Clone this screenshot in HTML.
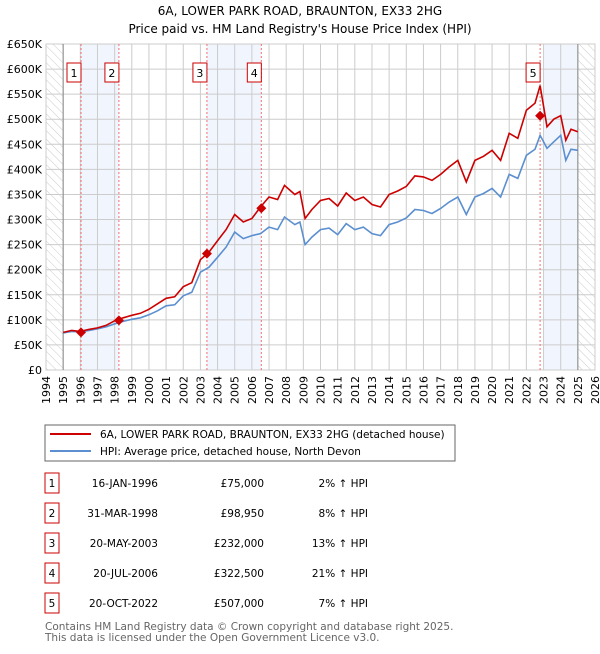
<!DOCTYPE html>
<html><head><meta charset="utf-8">
<style>
body{margin:0;background:#fff;font-family:"DejaVu Sans","Liberation Sans",sans-serif;}
svg text{font-family:"DejaVu Sans","Liberation Sans",sans-serif;}
</style></head>
<body>
<svg id="chart" width="600" height="650" viewBox="0 0 600 650" xmlns="http://www.w3.org/2000/svg">
<defs>
<pattern id="hatch" width="6" height="6" patternUnits="userSpaceOnUse" patternTransform="rotate(-45)">
<rect width="6" height="6" fill="#fff"/><line x1="0" y1="0" x2="0" y2="6" stroke="#ccc" stroke-width="1"/>
</pattern>
</defs>
<text x="300" y="15" text-anchor="middle" font-size="12">6A, LOWER PARK ROAD, BRAUNTON, EX33 2HG</text>
<text x="300" y="33" text-anchor="middle" font-size="12">Price paid vs. HM Land Registry's House Price Index (HPI)</text>
<g id="plot"></g>
<rect x="45" y="425" width="410" height="36" fill="none" stroke="#666"/>
<g>
<line x1="50" y1="434" x2="91" y2="434" stroke="#cc0000" stroke-width="2"/>
<text x="100" y="438" font-size="10.5">6A, LOWER PARK ROAD, BRAUNTON, EX33 2HG (detached house)</text></g>
<g>
<line x1="50" y1="451" x2="91" y2="451" stroke="#5b8fd0" stroke-width="2"/>
<text x="100" y="455" font-size="10.5">HPI: Average price, detached house, North Devon</text></g>
<g id="table" font-size="10.5"></g>
<text x="45" y="630" font-size="10.5" fill="#666">Contains HM Land Registry data © Crown copyright and database right 2025.</text>
<text x="45" y="641" font-size="10.5" fill="#666">This data is licensed under the Open Government Licence v3.0.</text>
</svg>
<script>
const dates=[1995.0,1995.5,1996.0,1996.5,1997,1997.5,1998,1998.5,1999,1999.5,2000,2000.5,2001,2001.5,2002,2002.5,2003,2003.5,2004,2004.5,2005,2005.5,2006,2006.5,2007,2007.5,2007.9,2008.5,2008.8,2009.1,2009.5,2010,2010.5,2011,2011.5,2012,2012.5,2013,2013.5,2014,2014.5,2015,2015.5,2016,2016.5,2017,2017.5,2018,2018.5,2019,2019.5,2020,2020.5,2021,2021.5,2022,2022.5,2022.8,2023.2,2023.6,2024,2024.3,2024.6,2025];
const hpiValues=[74,77,76,79,82,86,92,97,101,104,110,118,128,130,148,155,195,205,225,245,275,262,268,272,285,280,305,290,295,250,265,280,283,270,292,280,285,272,268,290,295,303,320,318,312,322,335,345,310,345,352,362,345,390,382,428,440,468,442,455,468,418,440,438];
const priceValues=[75,79,77,81,84,89,98,104,109,113,121,132,143,146,166,174,220,235,258,280,310,295,302,325,345,340,368,350,356,302,320,338,342,327,353,338,345,330,325,350,357,366,387,385,378,390,405,418,375,418,426,438,418,472,462,518,532,567,485,500,507,458,480,475];
const sales=[{d:1996.04,v:75,l:'1',date:'16-JAN-1996',p:'£75,000',h:'2% ↑ HPI'},{d:1998.25,v:98.95,l:'2',date:'31-MAR-1998',p:'£98,950',h:'8% ↑ HPI'},{d:2003.38,v:232,l:'3',date:'20-MAY-2003',p:'£232,000',h:'13% ↑ HPI'},{d:2006.55,v:322.5,l:'4',date:'20-JUL-2006',p:'£322,500',h:'21% ↑ HPI'},{d:2022.8,v:507,l:'5',date:'20-OCT-2022',p:'£507,000',h:'7% ↑ HPI'}];
const yTicks=[0,50,100,150,200,250,300,350,400,450,500,550,600,650];
const xYears=[1994,1995,1996,1997,1998,1999,2000,2001,2002,2003,2004,2005,2006,2007,2008,2009,2010,2011,2012,2013,2014,2015,2016,2017,2018,2019,2020,2021,2022,2023,2024,2025,2026];
const L=46,R=595,T=44,B=370;
const x=d=>L+(d-1994)/32*(R-L);
const y=v=>B-v/650*(B-T);
const NS='http://www.w3.org/2000/svg';
const g=document.getElementById('plot');
function mk(t,a,p){const e=document.createElementNS(NS,t);for(const k in a)e.setAttribute(k,a[k]);(p||g).appendChild(e);return e;}
let e=mk('rect',{x:L,y:T,width:x(1995)-L,height:B-T,fill:'url(#hatch)'});


e=mk('rect',{x:x(2025),y:T,width:R-x(2025),height:B-T,fill:'url(#hatch)'});


[[sales[0].d,sales[1].d],[sales[2].d,sales[3].d],[2023.0,2025]].forEach((b,i)=>{
 const r=mk('rect',{x:x(b[0]),y:T,width:x(b[1])-x(b[0]),height:B-T,fill:'#f1f5fd'});
 
 
});
yTicks.forEach(v=>{
 const ln=mk('line',{x1:L,x2:R,y1:y(v),y2:y(v),stroke:'#ccc'});
 
 
 const t=mk('text',{x:L-4,y:y(v)+4,'text-anchor':'end','font-size':'11'});
 t.textContent=v===0?'£0':'£'+v+'K';
 
 
});
xYears.forEach(yr=>{
 const ln=mk('line',{x1:x(yr),x2:x(yr),y1:T,y2:B,stroke:'#ccc'});
 
 
 const t=mk('text',{x:0,y:0,'text-anchor':'end','font-size':'11',transform:`translate(${x(yr)+4},${B+6}) rotate(-90)`});
 t.textContent=yr;
 
 
});
mk('rect',{x:L,y:T,width:R-L,height:B-T,fill:'none',stroke:'#ccc'});
mk('line',{x1:x(1995),x2:x(1995),y1:T,y2:B,stroke:'#888'});
mk('line',{x1:x(2025),x2:x(2025),y1:T,y2:B,stroke:'#888'});
sales.forEach(s=>{
 const ln=mk('line',{x1:x(s.d),x2:x(s.d),y1:T,y2:B,stroke:'#ee7070','stroke-dasharray':'2,2','stroke-width':'1'});
 
 
});
function path(vals){return vals.map((v,i)=>(i?'L':'M')+x(dates[i]).toFixed(1)+','+y(v).toFixed(1)).join('');}
let p=mk('path',{d:path(hpiValues),fill:'none',stroke:'#5b8fd0','stroke-width':'1.6'});


p=mk('path',{d:path(priceValues),fill:'none',stroke:'#cc0000','stroke-width':'1.6'});


sales.forEach(s=>{
 const cx=x(s.d),cy=y(s.v);
 const d=mk('polygon',{points:`${cx},${cy-5} ${cx+5},${cy} ${cx},${cy+5} ${cx-5},${cy}`,fill:'#cc0000'});
 
 
 const lx=cx-8;
 const b=mk('rect',{x:lx-6,y:63,width:14,height:19,fill:'#fff',stroke:'#cc0000'});
 
 
 const t=mk('text',{x:lx+1,y:77,'text-anchor':'middle','font-size':'11'});
 t.textContent=s.l;
 
 
});
const tb=document.getElementById('table');
sales.forEach((s,i)=>{
 const cy=483+i*30;
 const r=mk('rect',{x:45,y:cy-10,width:14,height:20,fill:'#fff',stroke:'#cc0000'},tb);
 
 
 const items=[[52,'middle',s.l,'badge-number'],[158,'end',s.date,'sale-date'],[264,'end',s.p,'sale-price'],[368,'end',s.h,'hpi-diff']];
 items.forEach(it=>{
  const t=mk('text',{x:it[0],y:cy+4,'text-anchor':it[1]},tb);
  t.textContent=it[2];
  
  
 });
});
</script>
</body></html>
